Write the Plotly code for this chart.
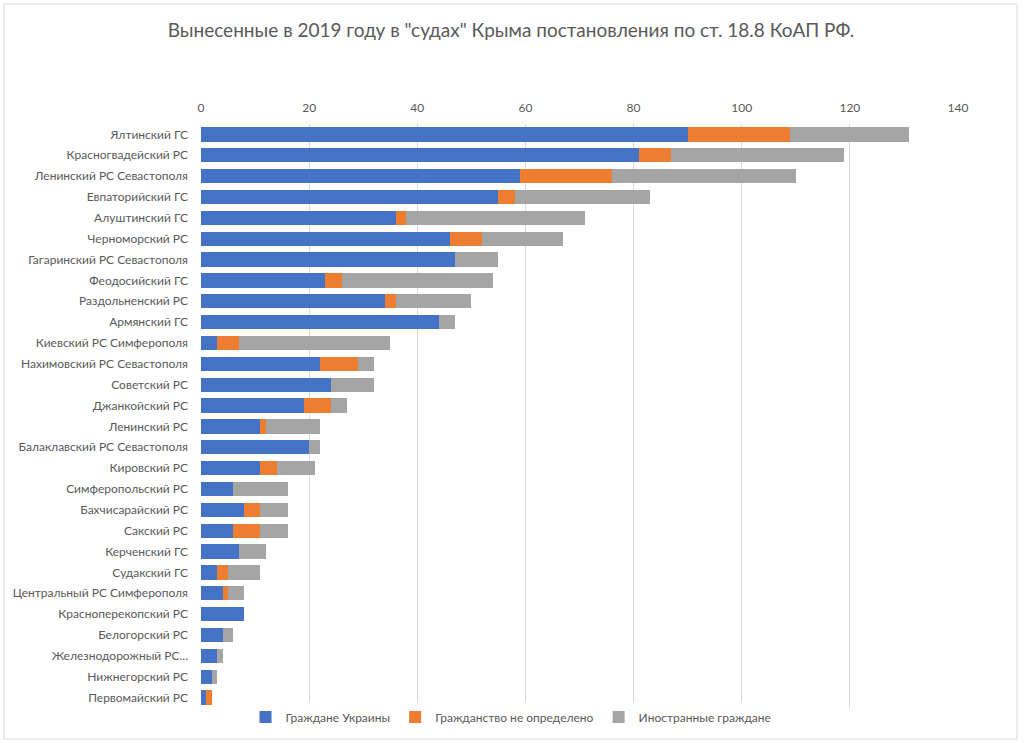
import plotly.graph_objects as go

# Суды и количество постановлений по ст. 18.8 КоАП РФ за 2019 год
courts = [
    "Ялтинский ГС",
    "Красногвадейский РС",
    "Ленинский РС Севастополя",
    "Евпаторийский ГС",
    "Алуштинский ГС",
    "Черноморский РС",
    "Гагаринский РС Севастополя",
    "Феодосийский ГС",
    "Раздольненский РС",
    "Армянский ГС",
    "Киевский РС Симферополя",
    "Нахимовский РС Севастополя",
    "Советский РС",
    "Джанкойский РС",
    "Ленинский РС",
    "Балаклавский РС Севастополя",
    "Кировский РС",
    "Симферопольский РС",
    "Бахчисарайский РС",
    "Сакский РС",
    "Керченский ГС",
    "Судакский ГС",
    "Центральный РС Симферополя",
    "Красноперекопский РС",
    "Белогорский РС",
    "Железнодорожный РС...",
    "Нижнегорский РС",
    "Первомайский РС",
]

ukraine = [90, 81, 59, 55, 36, 46, 47, 23, 34, 44, 3, 22, 24, 19,
           11, 20, 11, 6, 8, 6, 7, 3, 4, 8, 4, 3, 2, 1]
undefined = [19, 6, 17, 3, 2, 6, 0, 3, 2, 0, 4, 7, 0, 5,
             1, 0, 3, 0, 3, 5, 0, 2, 1, 0, 0, 0, 0, 1]
foreign = [22, 32, 34, 25, 33, 15, 8, 28, 14, 3, 28, 3, 8, 3,
           10, 2, 7, 10, 5, 5, 5, 6, 3, 0, 2, 1, 1, 0]

x_ticks = [0, 20, 40, 60, 80, 100, 120, 140]

series = [
    ("Граждане Украины", ukraine, "#4472C4"),
    ("Гражданство не определено", undefined, "#ED7D31"),
    ("Иностранные граждане", foreign, "#A5A5A5"),
]

text_color = "#595959"
font_family = "Lato, 'Open Sans', sans-serif"

W, H = 1024, 743
# область построения в пикселях
plot_l, plot_r, plot_t, plot_b = 201, 958, 124, 708

fig = go.Figure()
for name, values, color in series:
    fig.add_trace(go.Bar(
        y=courts, x=values,
        name=name,
        orientation="h",
        marker=dict(color=color, line=dict(width=0)),
    ))

pw = plot_r - plot_l
ph = plot_b - plot_t

fig.update_layout(
    barmode="stack",
    bargap=0.32,
    width=W, height=H,
    margin=dict(l=plot_l, r=W - plot_r, t=plot_t, b=H - plot_b,
                autoexpand=False),
    paper_bgcolor="white",
    plot_bgcolor="white",
    font=dict(family=font_family, color=text_color, size=12),
    title=dict(
        text='Вынесенные в 2019 году в "судах" Крыма постановления по ст. 18.8 КоАП РФ.',
        x=511 / W, xanchor="center", xref="container",
        y=1 - 30 / H, yanchor="middle", yref="container",
        font=dict(size=19, color=text_color, family=font_family),
    ),
    legend=dict(
        orientation="h",
        x=511 / W, xanchor="center", xref="container",
        y=1 - 717 / H, yanchor="middle", yref="container",
        font=dict(size=12, color=text_color),
        traceorder="normal",
        itemwidth=30,
    ),
    xaxis=dict(
        side="top",
        range=[0, 140],
        tickvals=x_ticks,
        showgrid=True,
        gridcolor="#D9D9D9",
        gridwidth=1,
        zeroline=False,
        showline=False,
        ticks="",
        ticklabelstandoff=9,
        tickfont=dict(size=12, color=text_color),
    ),
    yaxis=dict(
        autorange="reversed",
        showgrid=False,
        showline=False,
        ticks="",
        ticklabelstandoff=12,
        tickfont=dict(size=12, color=text_color),
    ),
    shapes=[dict(
        type="rect", xref="paper", yref="paper",
        x0=(4 - plot_l) / pw, x1=(1017 - plot_l) / pw,
        y0=(plot_b - 739) / ph, y1=(plot_b - 4) / ph,
        line=dict(color="#D9D9D9", width=1),
        fillcolor="rgba(0,0,0,0)",
        layer="below",
    )],
)

fig.write_html("out.html", config={"displayModeBar": False},
               post_script="document.body.style.margin='0';")
